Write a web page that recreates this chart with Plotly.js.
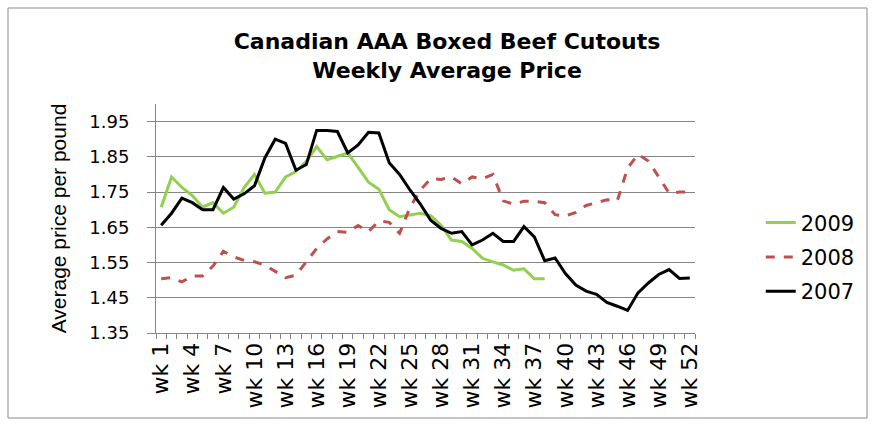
<!DOCTYPE html>
<html>
<head>
<meta charset="utf-8">
<script src="https://cdn.plot.ly/plotly-3.0.1.min.js"></script>
<style>html,body{margin:0;padding:0;background:#fff;}#chart{width:875px;height:427px;}</style>
</head>
<body>
<div id="chart"></div>
<script>
const weeks = ["wk 1","wk 2","wk 3","wk 4","wk 5","wk 6","wk 7","wk 8","wk 9","wk 10",
  "wk 11","wk 12","wk 13","wk 14","wk 15","wk 16","wk 17","wk 18","wk 19","wk 20",
  "wk 21","wk 22","wk 23","wk 24","wk 25","wk 26","wk 27","wk 28","wk 29","wk 30",
  "wk 31","wk 32","wk 33","wk 34","wk 35","wk 36","wk 37","wk 38","wk 39","wk 40",
  "wk 41","wk 42","wk 43","wk 44","wk 45","wk 46","wk 47","wk 48","wk 49","wk 50",
  "wk 51","wk 52"];

const tickLabels = ["wk 1","wk 4","wk 7","wk 10","wk 13","wk 16","wk 19","wk 22","wk 25",
  "wk 28","wk 31","wk 34","wk 37","wk 40","wk 43","wk 46","wk 49","wk 52"];

const price2009 = [1.707,1.793,1.763,1.740,1.707,1.720,1.690,1.707,1.763,
  1.800,1.747,1.750,1.793,1.808,1.837,1.879,1.842,
  1.852,1.861,1.820,1.778,1.758,1.700,1.680,1.684,1.690,
  1.683,1.656,1.614,1.610,1.590,1.562,1.552,1.543,1.528,
  1.532,1.504,1.504];

const price2008 = [1.504,1.507,1.495,1.512,1.512,1.540,1.582,1.566,1.556,
  1.552,1.543,1.524,1.507,1.514,1.552,1.590,1.617,
  1.638,1.636,1.655,1.638,1.668,1.664,1.633,1.706,1.756,
  1.788,1.786,1.793,1.773,1.793,1.788,1.800,1.725,1.716,
  1.724,1.724,1.720,1.686,1.682,1.692,1.712,1.720,1.728,
  1.725,1.818,1.857,1.838,1.793,1.747,1.750,1.750];

const price2007 = [1.656,1.690,1.733,1.720,1.700,1.700,1.763,1.730,1.745,
  1.768,1.847,1.900,1.888,1.812,1.828,1.925,1.925,
  1.922,1.861,1.884,1.920,1.918,1.833,1.800,1.756,1.716,
  1.670,1.647,1.633,1.638,1.600,1.614,1.633,1.610,1.610,
  1.652,1.623,1.555,1.563,1.519,1.486,1.469,1.460,1.437,
  1.426,1.414,1.464,1.492,1.516,1.530,1.505,1.506];

const seriesNames = ["2009","2008","2007"];

const traces = [
  {x: weeks.slice(0, price2009.length), y: price2009, name: seriesNames[0], legendgroup: "a",
   type: "scatter", mode: "lines", line: {color: "#92D050", width: 3}},
  {x: weeks, y: price2008, name: seriesNames[1], legendgroup: "b",
   type: "scatter", mode: "lines", line: {color: "#C0504D", width: 3, dash: "dash"}},
  {x: weeks, y: price2007, name: seriesNames[2], legendgroup: "c",
   type: "scatter", mode: "lines", line: {color: "#000000", width: 3}}
];

const L = 156, R = 180, T = 104, B = 94, W = 875, H = 427;
const pw = W - L - R, ph = H - T - B;
const px = v => (v - L) / pw;
const py = v => (H - B - v) / ph;

const layout = {
  width: W, height: H,
  margin: {l: L, r: R, t: T, b: B, pad: 0},
  paper_bgcolor: "#ffffff", plot_bgcolor: "#ffffff",
  font: {family: "DejaVu Sans, sans-serif", color: "#000"},
  title: {
    text: "Canadian AAA Boxed Beef Cutouts<br>Weekly Average Price",
    font: {family: "DejaVu Sans, sans-serif", size: 22, color: "#000", weight: 700},
    x: 0.54, xanchor: "center", xref: "paper", y: 0.885, yanchor: "top"
  },
  xaxis: {
    type: "category",
    categoryorder: "array", categoryarray: weeks,
    tickmode: "array",
    tickvals: weeks,
    ticktext: weeks.map(w => tickLabels.includes(w) ? w : ""),
    tickson: "boundaries",
    ticks: "outside", ticklen: 5, tickcolor: "#868686", tickwidth: 1,
    tickangle: -90,
    tickfont: {size: 22, family: "DejaVu Sans, sans-serif"},
    showline: true, linecolor: "#868686", linewidth: 1,
    showgrid: false, zeroline: false,
    range: [-0.5, 51.5]
  },
  yaxis: {
    range: [1.35, 2.0],
    tick0: 1.35, dtick: 0.1, tickmode: "linear",
    tickformat: ".2f",
    ticks: "outside", ticklen: 8, tickcolor: "#868686",
    ticklabelstandoff: 14,
    tickfont: {size: 18, family: "DejaVu Sans, sans-serif"},
    showgrid: true, gridcolor: "#868686", gridwidth: 1,
    showline: true, linecolor: "#868686", linewidth: 1,
    zeroline: false,
    title: {text: "Average price per pound", font: {size: 21, family: "Liberation Sans, Arial, sans-serif"}, standoff: 16}
  },
  legend: {
    x: 1.122, xanchor: "left", y: 0.57, yanchor: "top",
    font: {size: 21, family: "DejaVu Sans, sans-serif"},
    tracegroupgap: 4, bgcolor: "rgba(0,0,0,0)"
  },
  showlegend: true,
  shapes: [{
    type: "rect", xref: "paper", yref: "paper",
    x0: px(8), x1: px(867), y0: py(418), y1: py(8),
    line: {color: "#8a8a8a", width: 1}, fillcolor: "rgba(0,0,0,0)", layer: "below"
  }]
};

Plotly.newPlot("chart", traces, layout, {displayModeBar: false, staticPlot: true});
</script>
</body>
</html>
